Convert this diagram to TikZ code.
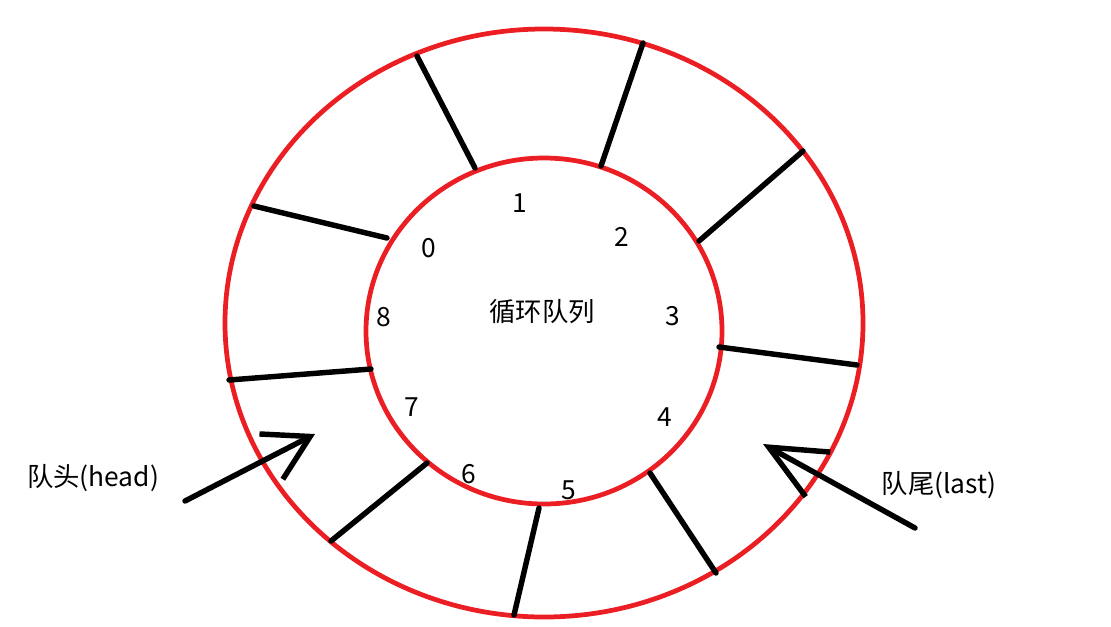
\documentclass[tikz,border=0pt]{standalone}
\usepackage{fontspec}
\setmainfont{Noto Sans CJK SC}
\usetikzlibrary{arrows.meta}
\definecolor{ringred}{RGB}{235,30,35}

\begin{document}
\begin{tikzpicture}
	[x=0.02cm, y=-0.02cm,
	 ring/.style={draw=ringred, line width=2.7pt},
	 spoke/.style={line width=3.1pt, line cap=round},
	 slot/.style={font=\fontsize{15}{18}\selectfont, inner sep=0pt},
	 pointer/.style={line width=3.1pt, line cap=round,
		-{Straight Barb[length=#1, width=29pt, line width=3.1pt]}},
	 pointer/.default=25pt]
	\useasboundingbox (0,0) rectangle (1111,626);
	\draw[ring] (544,323) ellipse [x radius=319, y radius=294];
	\draw[ring] (544,331) ellipse [x radius=178, y radius=173];
	\foreach \ox/\oy/\ix/\iy in {417/56/475/168, 643/43/601/166, 803/151/699/241,
		857/365/719/347, 716/573/650/473, 514/615/539/508,
		331/541/427/463, 229/380/371/369, 254/206/387/238}
		\draw[spoke] (\ox,\oy) -- (\ix,\iy);
	\node[slot] (title) at (542,312) {循环队列};
	\foreach \k/\px/\py in {0/429/248, 1/520/203, 2/622/237, 3/673/316, 4/665/417,
		5/569/490, 6/469/474, 7/412/407, 8/384/317}
		\node[slot] (s\k) at (\px,\py) {\k};
	\node[slot] (head) at (93,478) {队头(head)};
	\node[slot] (last) at (939,485) {队尾(last)};
	\coordinate (headfrom) at (185,501);
	\coordinate (headto) at (315,434);
	\coordinate (lastfrom) at (915,528);
	\coordinate (lastto) at (763,444);
	\draw[pointer] (headfrom) -- (headto);
	\draw[pointer=32pt] (lastfrom) -- (lastto);
\end{tikzpicture}
\end{document}
